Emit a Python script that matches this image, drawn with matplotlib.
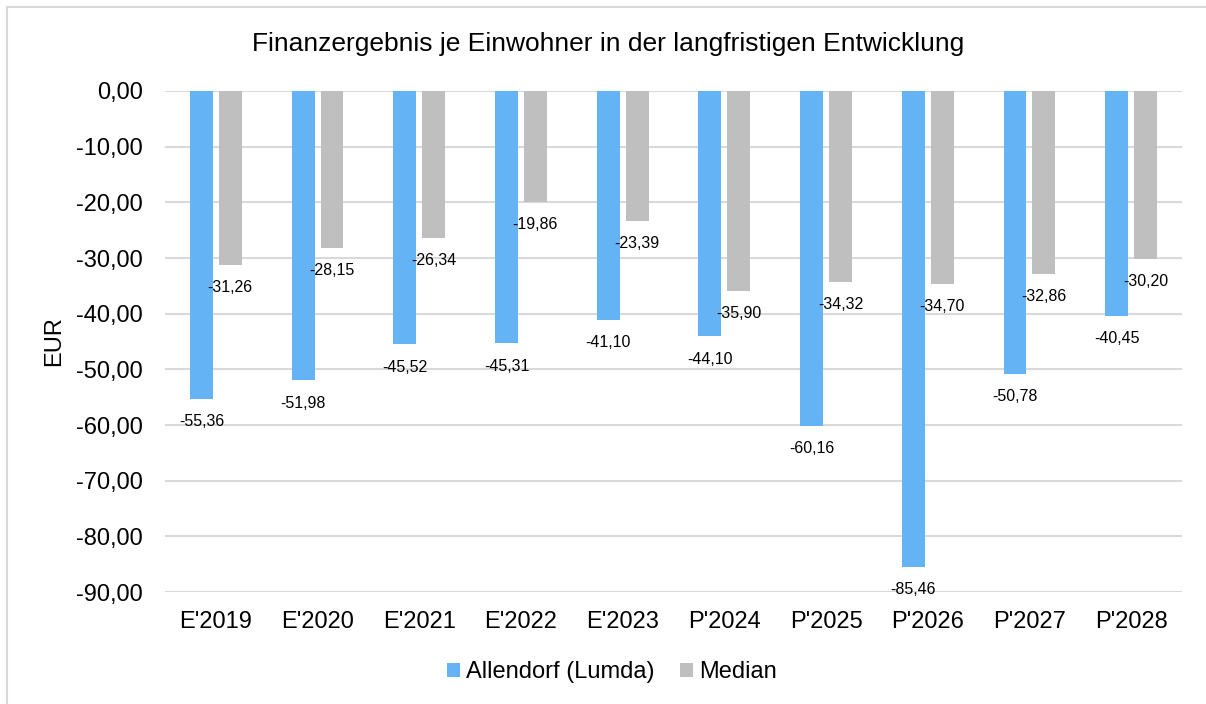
import numpy as np
import matplotlib
matplotlib.use('Agg')
import matplotlib.pyplot as plt
from matplotlib.lines import Line2D
from matplotlib.ticker import FuncFormatter

plt.rcParams['font.family'] = ['Liberation Sans', 'DejaVu Sans']

years = ["E'2019", "E'2020", "E'2021", "E'2022", "E'2023",
         "P'2024", "P'2025", "P'2026", "P'2027", "P'2028"]
allendorf = [-55.36, -51.98, -45.52, -45.31, -41.10,
             -44.10, -60.16, -85.46, -50.78, -40.45]
median = [-31.26, -28.15, -26.34, -19.86, -23.39,
          -35.90, -34.32, -34.70, -32.86, -30.20]

blue = '#63B3F5'
grey = '#BFBFBF'
W, H = 1206, 704


def de(v, nd=2):
    return f'{v:.{nd}f}'.replace('.', ',')


fg = plt.figure(figsize=(W / 100, H / 100), dpi=100)
ax = fg.add_axes([165 / W, 1 - 592 / H, 1017 / W, 501 / H])

# chart frame: only left and top edge are visible in the crop
fg.add_artist(Line2D([7 / W, 7 / W], [0, 1 - 7 / H], transform=fg.transFigure,
                     color='#D9D9D9', linewidth=1.5))
fg.add_artist(Line2D([7 / W, 1], [1 - 7 / H, 1 - 7 / H], transform=fg.transFigure,
                     color='#D9D9D9', linewidth=1.5))

x = np.arange(len(years))
w = 0.225
off = 0.142
b1 = ax.bar(x - off, allendorf, w, color=blue, label='Allendorf (Lumda)', zorder=2)
b2 = ax.bar(x + off, median, w, color=grey, label='Median', zorder=2)

for xi, v in zip(x, allendorf):
    ax.annotate(de(v), (xi - off, v), xytext=(0, -11), textcoords='offset points',
                ha='center', va='top', fontsize=11.5, zorder=4, annotation_clip=False)
for xi, v in zip(x, median):
    ax.annotate(de(v), (xi + off, v), xytext=(0, -11), textcoords='offset points',
                ha='center', va='top', fontsize=11.5, zorder=4, annotation_clip=False)

ax.set_ylim(-90, 0)
ax.set_xlim(-0.5, len(years) - 0.5)
ax.set_yticks(np.arange(-90, 1, 10))
ax.yaxis.set_major_formatter(FuncFormatter(lambda v, p: de(v)))
ax.set_xticks(x)
ax.set_xticklabels(years)
ax.tick_params(axis='both', length=0, labelsize=17)
ax.tick_params(axis='y', pad=16)
ax.tick_params(axis='x', pad=14)
ax.grid(axis='y', color='#D9D9D9', linewidth=1.5, zorder=0)
ax.set_axisbelow(True)
for s in ax.spines.values():
    s.set_visible(False)

fg.text(54 / W, 1 - 341 / H, 'EUR', rotation=90, ha='center', va='center', fontsize=17)
fg.text(608 / W, 1 - 44 / H, 'Finanzergebnis je Einwohner in der langfristigen Entwicklung',
        ha='center', va='center', fontsize=19)

fg.legend(handles=[b1, b2], loc='center', bbox_to_anchor=(612 / W, 1 - 672 / H),
          ncol=2, frameon=False, fontsize=17, handlelength=0.55, handleheight=0.55,
          handletextpad=0.25, columnspacing=1.1, borderaxespad=0, borderpad=0)

fg.savefig('out.png', dpi=100)
